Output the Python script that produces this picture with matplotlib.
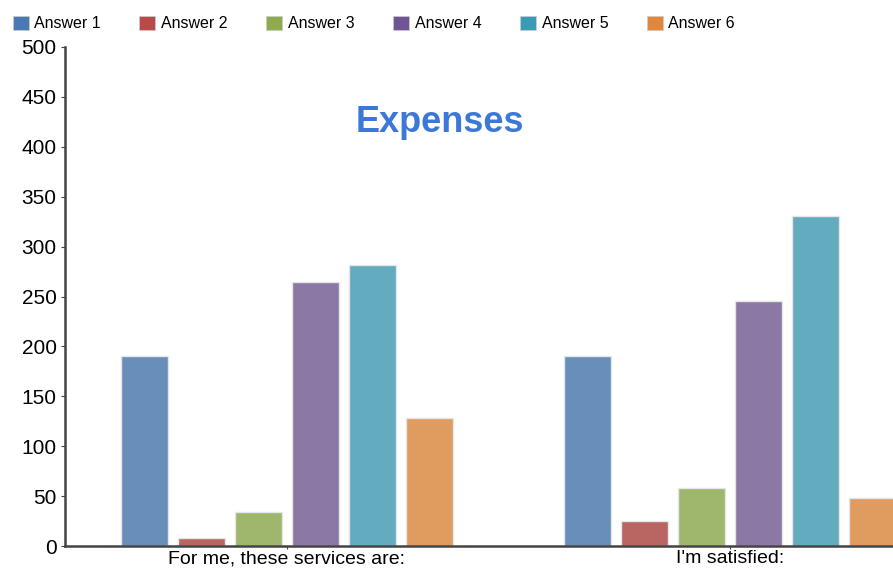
import matplotlib
matplotlib.use("Agg")
import matplotlib.pyplot as plt
from matplotlib.patches import Patch
import numpy as np

plt.rcParams['font.family'] = ['Liberation Sans', 'DejaVu Sans']

categories = ["For me, these services are:", "I'm satisfied:"]
answers = ["Answer 1", "Answer 2", "Answer 3", "Answer 4", "Answer 5", "Answer 6"]
values = {
    "Answer 1": [190, 190],
    "Answer 2": [8, 25],
    "Answer 3": [34, 58],
    "Answer 4": [265, 245],
    "Answer 5": [282, 331],
    "Answer 6": [128, 48],
}
yticks = [0, 50, 100, 150, 200, 250, 300, 350, 400, 450, 500]

legend_colors = ["#4a7ab5", "#b94a48", "#8eaa4d", "#6f5596", "#3b9ab5", "#e0873d"]
bar_colors = ["#688fba", "#b96663", "#9fb66d", "#8b78a5", "#63abbf", "#e09b5f"]

fig = plt.figure(figsize=(8.93, 5.69), dpi=100)
ax = fig.add_axes([65 / 893, 23 / 569, 1 - 65 / 893, 499 / 569])

x = np.arange(len(categories))
step = 0.1287
width = 0.106
for i, name in enumerate(answers):
    ax.bar(x + (i - 2.5) * step, values[name], width, color=bar_colors[i],
           edgecolor="#e6e6e6", linewidth=1)

ax.set_xlim(-0.501, 1.368)
ax.set_ylim(0, 500)
ax.set_yticks(yticks)
ax.set_xticks(x)
ax.set_xticklabels(categories, fontsize=14)
ax.tick_params(axis='y', labelsize=15, length=3, color="#444444", pad=3)
ax.tick_params(axis='x', length=2, color="#444444", pad=1)
for s in ["top", "right"]:
    ax.spines[s].set_visible(False)
for s in ["left", "bottom"]:
    ax.spines[s].set_color("#444444")
    ax.spines[s].set_linewidth(1.8)

fig.text(440 / 893, 1 - 122 / 569, "Expenses", ha="center", va="center",
         fontsize=26, fontweight="bold", color="#3c78d8")

handles = [Patch(facecolor=c, edgecolor="#cccccc", linewidth=0.5) for c in legend_colors]
fig.legend(handles, answers, loc="upper left", bbox_to_anchor=(-0.002, 0.998), ncol=6,
           frameon=False, fontsize=11.5, handlelength=1.0, handleheight=1.0,
           handletextpad=0.35, columnspacing=2.42)

fig.savefig("out.png", dpi=100)
